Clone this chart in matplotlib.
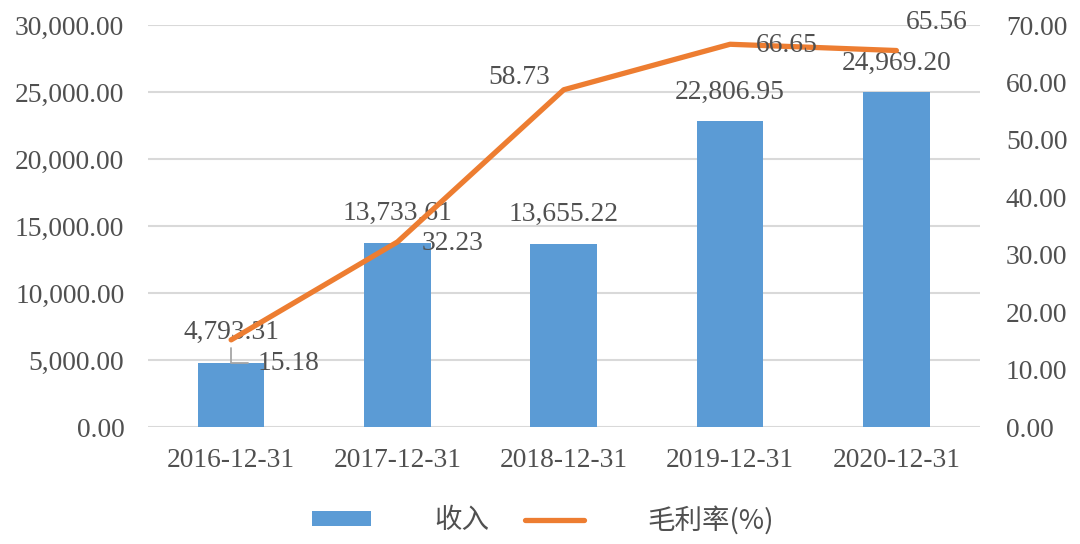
import matplotlib
matplotlib.use("Agg")
import matplotlib.pyplot as plt
import numpy as np

categories = ["2016-12-31", "2017-12-31", "2018-12-31", "2019-12-31", "2020-12-31"]
revenue = [4793.31, 13733.61, 13655.22, 22806.95, 24969.20]
margin = [15.18, 32.23, 58.73, 66.65, 65.56]
left_ticks = [0, 5000, 10000, 15000, 20000, 25000, 30000]
right_ticks = [0, 10, 20, 30, 40, 50, 60, 70]
series_names = ["收入", "毛利率(%)"]

BLUE = "#5B9BD5"
ORANGE = "#ED7D31"
TXT = "#505050"
GRID = "#D9D9D9"
SERIF = ["Liberation Serif", "DejaVu Serif"]
CJK = ["Noto Sans CJK SC", "DejaVu Sans"]
FS = 19.8

fig = plt.figure(figsize=(10.8, 5.44), dpi=100)
ax = fig.add_axes([0.137, 0.215, 0.770, 0.739])
ax2 = ax.twinx()

x = np.arange(len(categories))
bars = ax.bar(x, revenue, width=0.4, color=BLUE, zorder=2, label=series_names[0])
ax.set_ylim(0, 30000)
ax.set_xlim(-0.5, len(categories) - 0.5)
ax.set_yticks(left_ticks)
ax.set_yticklabels([f"{v:,.2f}" for v in left_ticks], fontfamily=SERIF, fontsize=FS, color=TXT)
ax.set_xticks(x)
ax.set_xticklabels(categories, fontfamily=SERIF, fontsize=FS, color=TXT)
ax.yaxis.grid(True, color=GRID, linewidth=1.5, zorder=0)
ax.set_axisbelow(True)
for s in ax.spines.values():
    s.set_visible(False)
for s in ax2.spines.values():
    s.set_visible(False)
ax.tick_params(axis="both", length=0)
ax.tick_params(axis="y", pad=17)
ax.tick_params(axis="x", pad=15)

line, = ax2.plot(x, margin, color=ORANGE, linewidth=3.8, solid_capstyle="round",
                 solid_joinstyle="round", zorder=3, label=series_names[1])
ax2.set_ylim(0, 70)
ax2.set_yticks(right_ticks)
ax2.set_yticklabels([f"{v:.2f}" for v in right_ticks], fontfamily=SERIF, fontsize=FS, color=TXT)
ax2.tick_params(axis="y", length=0, pad=19)

# bar labels
for i, v in enumerate(revenue):
    if i == 0:
        ax.annotate(f"{v:,.2f}", xy=(x[i] + 0.1, v), xytext=(-12, 22), textcoords="offset points",
                    ha="center", va="center", fontfamily=SERIF, fontsize=FS, color=TXT, zorder=5,
                    arrowprops=dict(arrowstyle="-", color="#A6A6A6", lw=1.3, shrinkA=0, shrinkB=0,
                                    connectionstyle="angle,angleA=90,angleB=0,rad=0"))
    else:
        ax.annotate(f"{v:,.2f}", xy=(x[i], v), xytext=(0, 21), textcoords="offset points",
                    ha="center", va="center", fontfamily=SERIF, fontsize=FS, color=TXT, zorder=5)

# line labels
offsets = [(41, -17), (40, -1), (-32, 9), (41, -1), (29, 20)]
for i, v in enumerate(margin):
    ax2.annotate(f"{v:.2f}", xy=(x[i], v), xytext=offsets[i], textcoords="offset points",
                 ha="center", va="center", fontfamily=SERIF, fontsize=FS, color=TXT, zorder=6)

leg = fig.legend([bars, line], series_names, loc="center", bbox_to_anchor=(0.503, 0.044),
                 ncol=2, frameon=False, handlelength=2.15, handleheight=0.45, handletextpad=2.3,
                 columnspacing=1.3, prop={"family": CJK, "size": FS})
for t in leg.get_texts():
    t.set_color(TXT)

fig.savefig("out.png", dpi=100)
